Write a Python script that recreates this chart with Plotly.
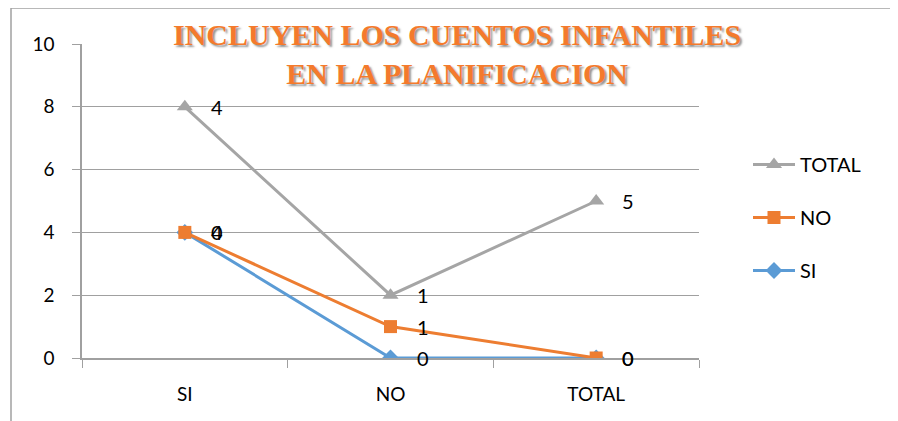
import numpy as np
import plotly.graph_objects as go

categories = ["SI", "NO", "TOTAL"]
si_values = [4, 0, 0]
no_values = [0, 1, 0]
total_values = [4, 1, 5]
y_ticks = [0, 2, 4, 6, 8, 10]
title_lines = ["INCLUYEN LOS CUENTOS INFANTILES", "EN LA PLANIFICACION"]

series = [
    ("SI", si_values, "#5B9BD5", "diamond", 13),
    ("NO", no_values, "#ED7D31", "square", 13),
    ("TOTAL", total_values, "#A5A5A5", "triangle-up", 14),
]

# page body has an 8px margin; figure coords = screen coords - 8
OFF = 8
W, H = 898, 421
L = 82 - OFF
T = 44 - OFF
R = W - (699 - OFF)
B = H - (358 - OFF)
pw, ph = W - L - R, H - T - B

fig = go.Figure()
annotations = []
cum = np.zeros(len(categories))
n = len(series)
for i, (name, vals, color, sym, msize) in enumerate(series):
    cum = cum + np.array(vals)
    ys = cum.tolist()
    fig.add_trace(go.Scatter(
        x=categories, y=ys, name=name, mode="lines+markers",
        line=dict(color=color, width=3),
        marker=dict(symbol=sym, size=msize, color=color),
        legendgroup=name, legendrank=n - i,
    ))
    for c, yv, v in zip(categories, ys, vals):
        annotations.append(dict(x=c, y=float(yv), text=str(v), showarrow=False,
                                xanchor="center", yanchor="middle", xshift=32,
                                font=dict(family="Lato, Liberation Sans", size=20, color="black")))

def sx(px):
    return (px - OFF - L) / pw

def sy(py):
    return 1 - (py - OFF - T) / ph

title_text = "<br>".join("<b>%s</b>" % t for t in title_lines)
annotations.append(dict(xref="paper", yref="paper", x=sx(457), y=sy(16),
                        text=title_text, showarrow=False, xanchor="center", yanchor="top",
                        align="center",
                        font=dict(family="Liberation Serif", size=30, color="#F47A2C",
                                  shadow="2px 2px 2px rgba(60,60,60,0.55)")))

fig.update_layout(
    width=W, height=H, margin=dict(l=L, r=R, t=T, b=B),
    paper_bgcolor="white", plot_bgcolor="white",
    showlegend=True,
    legend=dict(x=sx(748), y=sy(145), xanchor="left", yanchor="top",
                traceorder="grouped", tracegroupgap=24, itemwidth=42,
                font=dict(family="Lato, Liberation Sans", size=20, color="black"),
                bgcolor="rgba(0,0,0,0)"),
    annotations=annotations,
    shapes=[
        dict(type="line", xref="paper", yref="paper", x0=sx(11), x1=sx(11),
             y0=sy(8), y1=sy(430), line=dict(color="#A0A0A0", width=1.5)),
        dict(type="line", xref="paper", yref="paper", x0=sx(11), x1=sx(910),
             y0=sy(8), y1=sy(8), line=dict(color="#A0A0A0", width=1.5)),
    ],
)
fig.update_xaxes(type="category", range=[-0.5, len(categories) - 0.5],
                 showgrid=False, showline=True, linecolor="#A0A0A0", linewidth=1.5,
                 ticks="outside", tickson="boundaries", ticklen=8, tickcolor="#A0A0A0",
                 tickfont=dict(family="Lato, Liberation Sans", size=19, color="black"),
                 ticklabelstandoff=18)
fig.update_yaxes(range=[0, 10], tickvals=y_ticks, showgrid=True, gridcolor="#A0A0A0", gridwidth=1,
                 showline=True, linecolor="#A0A0A0", linewidth=1.5, zeroline=False,
                 ticks="outside", ticklen=8, tickcolor="#A0A0A0",
                 tickfont=dict(family="Lato, Liberation Sans", size=19, color="black"),
                 ticklabelstandoff=14)

fig.write_html("out.html")
